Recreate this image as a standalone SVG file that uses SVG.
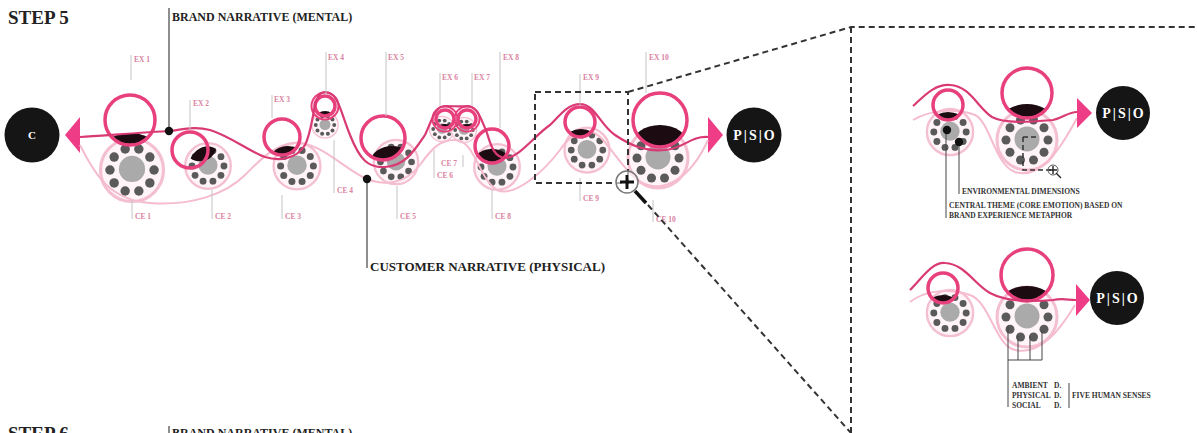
<svg xmlns="http://www.w3.org/2000/svg" xmlns:xlink="http://www.w3.org/1999/xlink" width="1197" height="433" viewBox="0 0 1197 433">
<style>
.title{font-family:"Liberation Serif",serif;font-weight:bold;fill:#222}
.lbl{font-family:"Liberation Serif",serif;font-weight:bold;font-size:7.5px;fill:#d9829f}
.note{font-family:"Liberation Serif",serif;font-weight:bold;font-size:7.5px;fill:#333}
.lead{stroke:#c4c4c4;stroke-width:1;fill:none}
.blead{stroke:#444;stroke-width:1;fill:none}
.ex{fill:none;stroke:#e8407c;stroke-width:3.5}
.exo{fill:none;stroke:#e8407c;stroke-width:2}
.dark{fill:#1c0b10}
.brand{fill:none;stroke:#d93a74;stroke-width:2.2}
.cust{fill:none;stroke:#f5bccd;stroke-width:2}
.dash{fill:none;stroke:#333;stroke-width:2;stroke-dasharray:6 4}
.arrow{fill:#ee3d86}
.end{fill:#151515}
.endt{font-family:"Liberation Serif",serif;font-weight:bold;fill:#fff;text-anchor:middle}
.pso{letter-spacing:2px}
</style>
<defs>
<g id="ce-unit">
<circle r="30" fill="#fff4f7" stroke="#f4bfd0" stroke-width="3"/>
<circle r="12.5" cy="-1" fill="#aaaaaa"/>
<g fill="#5a5a5a">
<circle cx="21" cy="0" r="4.5"/><circle cx="17" cy="12.3" r="4.5"/><circle cx="6.5" cy="20" r="4.5"/><circle cx="-6.5" cy="20" r="4.5"/><circle cx="-17" cy="12.3" r="4.5"/><circle cx="-21" cy="0" r="4.5"/><circle cx="-17" cy="-12.3" r="4.5"/><circle cx="-6.5" cy="-20" r="4.5"/><circle cx="6.5" cy="-20" r="4.5"/><circle cx="17" cy="-12.3" r="4.5"/>
</g>
</g>
<clipPath id="c1"><circle cx="130" cy="120" r="24"/></clipPath>
<clipPath id="c2"><circle cx="190" cy="150" r="17"/></clipPath>
<clipPath id="c3"><circle cx="282" cy="137" r="17"/></clipPath>
<clipPath id="c4"><circle cx="325" cy="106" r="9"/></clipPath>
<clipPath id="c5"><circle cx="383" cy="138" r="21"/></clipPath>
<clipPath id="c6"><circle cx="445" cy="119" r="8"/></clipPath>
<clipPath id="c7"><circle cx="467" cy="119" r="8"/></clipPath>
<clipPath id="c8"><circle cx="492" cy="146" r="16"/></clipPath>
<clipPath id="c9"><circle cx="580" cy="122" r="14"/></clipPath>
<clipPath id="c10"><circle cx="660" cy="120" r="26"/></clipPath>
<clipPath id="ci1"><circle cx="948" cy="105" r="14"/></clipPath>
<clipPath id="ci2"><circle cx="1027" cy="93" r="24"/></clipPath>
<clipPath id="ci3"><circle cx="943" cy="288" r="14"/></clipPath>
<clipPath id="ci4"><circle cx="1027" cy="275" r="25"/></clipPath>
</defs>
<rect width="1197" height="433" fill="#fff"/>

<!-- titles -->
<text class="title" x="8" y="24" font-size="19">STEP 5</text>
<text class="title" x="172" y="21" font-size="12">BRAND NARRATIVE (MENTAL)</text>
<line x1="169" y1="8" x2="169" y2="131" stroke="#444" stroke-width="1.2"/>
<text class="title" x="370" y="271" font-size="13">CUSTOMER NARRATIVE (PHYSICAL)</text>
<line x1="367" y1="179" x2="367" y2="268" stroke="#444" stroke-width="1.2"/>
<text class="title" x="8" y="440" font-size="19">STEP 6</text>
<text class="title" x="172" y="437" font-size="12">BRAND NARRATIVE (MENTAL)</text>
<line x1="169" y1="426" x2="169" y2="433" stroke="#444" stroke-width="1.2"/>

<!-- start / end nodes -->
<g id="node-c">
<circle class="end" cx="32" cy="135" r="27.5"/>
<text class="endt" x="32" y="139" font-size="11">C</text>
<polygon class="arrow" points="65,135 80,117 80,153"/>
</g>
<g id="node-pso">
<polygon class="arrow" points="723,135 708,117 708,153"/>
<circle class="end" cx="754" cy="135" r="27.5"/>
<text class="endt pso" x="755" y="140" font-size="14">P|S|O</text>
</g>

<!-- customer experience circles -->
<g id="ce-circles">
<use href="#ce-unit" transform="translate(132,170) scale(1.05)"/>
<use href="#ce-unit" transform="translate(208,166) scale(0.76)"/>
<use href="#ce-unit" transform="translate(297,166) scale(0.78)"/>
<use href="#ce-unit" transform="translate(325,125) scale(0.44)"/>
<use href="#ce-unit" transform="translate(396,162) scale(0.74)"/>
<use href="#ce-unit" transform="translate(442,129) scale(0.42)"/>
<use href="#ce-unit" transform="translate(464,130) scale(0.42)"/>
<use href="#ce-unit" transform="translate(497,167) scale(0.76)"/>
<use href="#ce-unit" transform="translate(587,150) scale(0.75)"/>
<use href="#ce-unit" transform="translate(658,158) scale(1.0)"/>
</g>

<!-- connectors: narratives -->
<g id="connectors">
<path class="cust" d="M80,145 C95,175 110,200 150,203 C190,206 225,195 245,175 C260,160 275,144 295,143 C320,141 345,170 367,179 C385,186 405,184 420,165 C432,148 440,140 455,140 C475,140 478,178 497,190 C515,198 545,170 560,150 C570,135 580,130 592,132 C605,135 620,168 640,182 C662,194 690,180 708,140"/>
</g>

<!-- experience rings -->
<g id="ex1"><ellipse class="dark" cx="130" cy="146" rx="24" ry="13" clip-path="url(#c1)"/><circle class="ex" cx="130" cy="120" r="25"/></g>
<g id="ex2"><ellipse class="dark" cx="204" cy="163" rx="14" ry="18" transform="rotate(35 204 163)" clip-path="url(#c2)"/><circle class="ex" cx="190" cy="150" r="18"/></g>
<g id="ex3"><ellipse class="dark" cx="288" cy="158" rx="17" ry="12" clip-path="url(#c3)"/><circle class="ex" cx="282" cy="137" r="18"/></g>
<g id="ex4"><ellipse class="dark" cx="325" cy="117" rx="9" ry="6" clip-path="url(#c4)"/><circle class="ex" cx="325" cy="106" r="10"/><circle class="exo" cx="325" cy="106" r="13.5"/></g>
<g id="ex5"><ellipse class="dark" cx="392" cy="161" rx="21" ry="15" clip-path="url(#c5)"/><circle class="ex" cx="383" cy="138" r="22"/></g>
<g id="ex6"><ellipse class="dark" cx="445" cy="129" rx="8" ry="5" clip-path="url(#c6)"/><circle class="ex" cx="445" cy="119" r="9"/><circle class="exo" cx="445" cy="119" r="12.5"/></g>
<g id="ex7"><ellipse class="dark" cx="467" cy="129" rx="8" ry="5" clip-path="url(#c7)"/><circle class="ex" cx="467" cy="119" r="9"/><circle class="exo" cx="467" cy="119" r="12.5"/></g>
<g id="ex8"><ellipse class="dark" cx="492" cy="160" rx="17" ry="11" clip-path="url(#c8)"/><circle class="ex" cx="492" cy="146" r="17"/></g>
<g id="ex9"><ellipse class="dark" cx="581" cy="138" rx="15" ry="9" clip-path="url(#c9)"/><circle class="ex" cx="580" cy="122" r="15"/></g>
<g id="ex10"><ellipse class="dark" cx="660" cy="145" rx="28" ry="20" clip-path="url(#c10)"/><circle class="ex" cx="660" cy="120" r="27"/></g>

<g id="brand-line">
<path class="brand" d="M80,137 C110,135 150,132 170,131 C185,129 195,126 210,130 C230,136 250,152 265,157 C278,161 296,160 305,145 C315,125 312,92 325,92 C338,92 340,110 350,135 C360,160 368,168 385,167 C405,166 415,150 425,135 C432,120 435,106 445,106 C455,106 458,107 467,106 C478,106 481,120 486,130 C490,142 493,158 506,158 C520,157 535,135 550,125 C560,115 568,104 580,104 C595,104 600,125 615,135 C630,145 645,152 665,150 C685,148 690,136 708,137"/>
<circle cx="169" cy="131" r="4.2" fill="#111"/>
<circle cx="367" cy="179" r="4.2" fill="#111"/>
</g>

<!-- labels -->
<g id="labels">
<path class="lead" d="M131,55V80 M190,100V130 M272,95V118 M326,52V95 M386,52V116 M440,73V106 M472,73V106 M500,52V128 M580,74V106 M646,52V93"/>
<text class="lbl" x="134" y="62">EX 1</text>
<text class="lbl" x="193" y="106">EX 2</text>
<text class="lbl" x="274" y="102">EX 3</text>
<text class="lbl" x="328" y="60">EX 4</text>
<text class="lbl" x="388" y="60">EX 5</text>
<text class="lbl" x="442" y="80">EX 6</text>
<text class="lbl" x="474" y="80">EX 7</text>
<text class="lbl" x="503" y="60">EX 8</text>
<text class="lbl" x="583" y="80">EX 9</text>
<text class="lbl" x="649" y="60">EX 10</text>
<path class="lead" d="M132,200V219 M212,190V219 M282,195V219 M334,140V193 M397,186V219 M434,150V178 M463,155V167 M492,190V219 M580,178V201 M653,200V222"/>
<text class="lbl" x="135" y="219">CE 1</text>
<text class="lbl" x="215" y="219">CE 2</text>
<text class="lbl" x="285" y="219">CE 3</text>
<text class="lbl" x="337" y="193">CE 4</text>
<text class="lbl" x="400" y="219">CE 5</text>
<text class="lbl" x="437" y="178">CE 6</text>
<text class="lbl" x="441" y="166">CE 7</text>
<text class="lbl" x="495" y="219">CE 8</text>
<text class="lbl" x="583" y="201">CE 9</text>
<text class="lbl" x="656" y="222">CE 10</text>
</g>

<!-- zoom frame -->
<g id="zoom-frame">
<rect class="dash" x="535" y="92" width="93" height="91"/>
<path class="dash" d="M628,92 L851,27 L1197,27 M851,27 V433 M648,205 L851,433"/>
<circle cx="627" cy="182" r="11" fill="#fff" fill-opacity="0.6" stroke="#777" stroke-width="1.5"/>
<path d="M620,182H634M627,175V189" stroke="#111" stroke-width="3"/>
<line x1="635" y1="191" x2="646" y2="203" stroke="#111" stroke-width="3.5"/>
</g>

<!-- inset top -->
<g id="inset-top">
<use href="#ce-unit" transform="translate(950,132) scale(0.77)"/>
<use href="#ce-unit" transform="translate(1027,140) scale(1.0)"/>
<path class="cust" d="M913,120 C930,110 955,108 975,115 C990,122 995,165 1015,172 C1040,180 1060,150 1077,118"/>
<ellipse class="dark" cx="948" cy="121" rx="15" ry="9" clip-path="url(#ci1)"/>
<circle class="ex" cx="948" cy="105" r="15"/>
<ellipse class="dark" cx="1027" cy="119" rx="25" ry="15" clip-path="url(#ci2)"/>
<circle class="ex" cx="1027" cy="93" r="25"/>
<path class="brand" d="M913,106 C925,95 935,84 950,85 C970,86 978,108 992,117 C1005,124 1030,122 1053,120 C1063,118 1068,112 1077,112"/>
<polygon class="arrow" points="1092,113 1077,98 1077,128"/>
<circle class="end" cx="1123" cy="113" r="27"/>
<text class="endt pso" x="1124" y="118" font-size="14">P|S|O</text>
<circle cx="947" cy="130" r="4.2" fill="#111"/>
<circle cx="959" cy="142" r="4.2" fill="#111"/>
<path class="blead" d="M946,134V218 M959,146V194"/>
<path d="M1023,137H1038 M1023,137V170H1053" fill="none" stroke="#333" stroke-width="1.5" stroke-dasharray="5 3"/>
<circle cx="1053" cy="170" r="5" fill="none" stroke="#555" stroke-width="1"/>
<path d="M1049,170H1057M1053,166V174M1056,173L1061,178" stroke="#222" stroke-width="1.4"/>
<text class="note" x="962" y="194">ENVIRONMENTAL DIMENSIONS</text>
<text class="note" x="949" y="208">CENTRAL THEME (CORE EMOTION) BASED ON</text>
<text class="note" x="949" y="218">BRAND EXPERIENCE METAPHOR</text>
</g>

<!-- inset bottom -->
<g id="inset-bottom">
<use href="#ce-unit" transform="translate(950,313) scale(0.77)"/>
<use href="#ce-unit" transform="translate(1027,317) scale(1.0)"/>
<path class="cust" d="M910,302 C925,290 950,288 970,295 C990,302 995,345 1015,350 C1040,356 1060,330 1075,305"/>
<ellipse class="dark" cx="943" cy="304" rx="15" ry="9" clip-path="url(#ci3)"/>
<circle class="ex" cx="943" cy="288" r="15"/>
<ellipse class="dark" cx="1027" cy="302" rx="26" ry="16" clip-path="url(#ci4)"/>
<circle class="ex" cx="1027" cy="275" r="26"/>
<path class="brand" d="M910,290 C922,278 932,262 945,263 C965,264 975,285 990,293 C1005,301 1030,302 1053,300 C1063,298 1068,300 1076,300"/>
<polygon class="arrow" points="1090,300 1076,284 1076,316"/>
<circle class="end" cx="1117" cy="298" r="27"/>
<text class="endt pso" x="1118" y="303" font-size="14">P|S|O</text>
<path class="blead" d="M1008,326V407 M1018,336V360 M1030,336V360 M1042,330V360 M1008,360H1042 M1069,383V408"/>
<text class="note" x="1012" y="388"><tspan>AMBIENT</tspan><tspan x="1054">D.</tspan></text>
<text class="note" x="1012" y="398"><tspan>PHYSICAL</tspan><tspan x="1054">D.</tspan></text>
<text class="note" x="1012" y="408"><tspan>SOCIAL</tspan><tspan x="1054">D.</tspan></text>
<text class="note" x="1072" y="398">FIVE HUMAN SENSES</text>
</g>
</svg>
